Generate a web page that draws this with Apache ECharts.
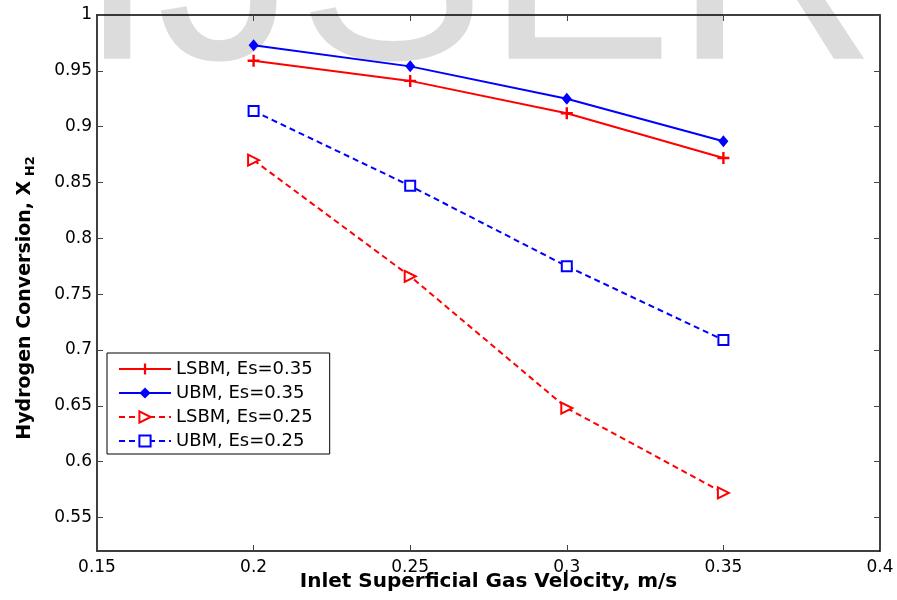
<!DOCTYPE html>
<html>
<head>
<meta charset="utf-8">
<script src="https://cdn.jsdelivr.net/npm/echarts@6/dist/echarts.min.js"></script>
<style>
  html, body { margin: 0; padding: 0; background: #fff; }
  #chart { width: 897px; height: 600px; }
</style>
</head>
<body>
<div id="chart"></div>
<script>
// values
const velocities = [0.2, 0.25, 0.3, 0.35]
const lsbm035 = [0.959, 0.941, 0.912, 0.872]
const ubm035 = [0.973, 0.954, 0.925, 0.887]
const lsbm025 = [0.870, 0.766, 0.648, 0.572]
const ubm025 = [0.914, 0.847, 0.775, 0.709]
const seriesNames = ['LSBM, Es=0.35', 'UBM, Es=0.35', 'LSBM, Es=0.25', 'UBM, Es=0.25']
const yTicks = [0.55, 0.6, 0.65, 0.7, 0.75, 0.8, 0.85, 0.9, 0.95, 1]

const font = 'DejaVu Sans, sans-serif'
const plus = 'path://M4,0H6V4H10V6H6V10H4V6H0V4H4Z'

const pairs = ys => velocities.map((x, i) => [x, ys[i]])

const makeSeries = (name, ys, color, dashed, symbol, size, extra) => Object.assign({
  name,
  type: 'line',
  data: pairs(ys),
  symbol,
  symbolSize: size,
  showSymbol: true,
  lineStyle: { color, width: 2, type: dashed ? [6, 4] : 'solid' },
  itemStyle: { color, borderColor: color, borderWidth: 0 },
  z: 3
}, extra || {})

const chart = echarts.init(document.getElementById('chart'))

chart.setOption({
  backgroundColor: '#fff',
  animation: false,
  // faint journal watermark behind the plot
  graphic: [{
    type: 'text',
    left: 78,
    top: -160,
    z: -10,
    silent: true,
    style: {
      text: 'IJSER',
      font: '282px Liberation Sans, Arial, sans-serif',
      fill: '#dcdcdc'
    }
  }],
  grid: { left: 97, right: 17, top: 15, bottom: 49, outerBoundsMode: 'none' },
  legend: {
    left: 107,
    top: 353,
    orient: 'vertical',
    backgroundColor: '#fff',
    borderColor: '#000',
    borderWidth: 1,
    padding: [7, 17, 4, 11],
    itemGap: 6,
    itemWidth: 52,
    itemHeight: 14,
    textStyle: { fontFamily: font, fontSize: 18, color: '#000', lineHeight: 17 },
    data: seriesNames
  },
  xAxis: [{
    type: 'value',
    min: 0.15,
    max: 0.4,
    interval: 0.05,
    name: 'Inlet Superficial Gas Velocity, m/s',
    nameLocation: 'middle',
    nameGap: 21,
    nameMoveOverlap: false,
    nameTextStyle: { fontFamily: font, fontSize: 20, fontWeight: 'bold', color: '#000' },
    axisLine: { show: true, lineStyle: { color: '#000', width: 1.5 } },
    axisTick: { show: true, inside: true, length: 6, lineStyle: { color: '#444' } },
    axisLabel: { fontFamily: font, fontSize: 17, color: '#000', margin: 8 },
    splitLine: { show: false }
  }, {
    type: 'value',
    position: 'top',
    min: 0.15,
    max: 0.4,
    interval: 0.05,
    axisLine: { show: true, lineStyle: { color: '#000', width: 1.5 } },
    axisTick: { show: true, inside: true, length: 6, lineStyle: { color: '#444' } },
    axisLabel: { show: false },
    splitLine: { show: false }
  }],
  yAxis: [{
    type: 'value',
    min: 0.52,
    max: 1,
    name: '{n|Hydrogen Conversion, X}{s| H2}',
    nameLocation: 'middle',
    nameGap: 60,
    nameTextStyle: {
      padding: [0, 30, 0, 0],
      rich: {
        n: { fontFamily: font, fontSize: 19, fontWeight: 'bold', color: '#000' },
        s: { fontFamily: font, fontSize: 13, fontWeight: 'bold', color: '#000', padding: [10, 0, 0, 0] }
      }
    },
    axisLine: { show: true, lineStyle: { color: '#000', width: 1.5 } },
    axisTick: { show: true, inside: true, length: 6, customValues: yTicks, lineStyle: { color: '#444' } },
    axisLabel: { fontFamily: font, fontSize: 17, color: '#000', margin: 5, customValues: yTicks },
    splitLine: { show: false }
  }, {
    type: 'value',
    position: 'right',
    min: 0.52,
    max: 1,
    axisLine: { show: true, lineStyle: { color: '#000', width: 1.5 } },
    axisTick: { show: true, inside: true, length: 6, customValues: yTicks, lineStyle: { color: '#444' } },
    axisLabel: { show: false },
    splitLine: { show: false }
  }],
  series: [
    makeSeries(seriesNames[0], lsbm035, '#ff0000', false, plus, 12),
    makeSeries(seriesNames[1], ubm035, '#0000ff', false, 'diamond', [10, 12]),
    makeSeries(seriesNames[2], lsbm025, '#ff0000', true, 'emptyTriangle', 11, {
      symbolRotate: -90,
      itemStyle: { color: '#ff0000', borderColor: '#ff0000', borderWidth: 2 }
    }),
    makeSeries(seriesNames[3], ubm025, '#0000ff', true, 'emptyRect', 10, {
      itemStyle: { color: '#0000ff', borderColor: '#0000ff', borderWidth: 2 }
    })
  ]
})
</script>
</body>
</html>
